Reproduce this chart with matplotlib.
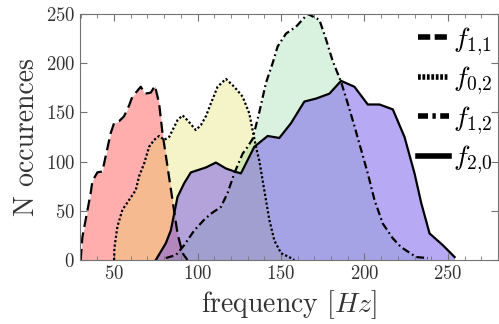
import numpy as np
import matplotlib
matplotlib.use("Agg")
import matplotlib.pyplot as plt
from matplotlib.lines import Line2D
from matplotlib.ticker import MultipleLocator

plt.rcParams['font.family'] = 'serif'
plt.rcParams['font.serif'] = ['cmr10', 'DejaVu Serif']
plt.rcParams['mathtext.fontset'] = 'cm'
plt.rcParams['axes.formatter.use_mathtext'] = True

# f_{1,1}
f11_x = [30, 31, 36, 37, 40, 43, 48, 50, 53, 56, 59, 61, 66, 68.5, 72, 74.5, 77, 79, 82, 85, 88, 91, 94]
f11_y = [0, 23, 68, 80, 89, 90, 129, 139, 141, 146, 157, 166, 176, 169, 170, 177, 159, 129, 95, 61, 27, 7, 0]
# f_{0,2}
f02_x = [50, 50.2, 52, 55, 59, 63, 65, 68, 71, 74, 77, 80, 83, 88, 91, 94, 99, 102, 105, 108, 112, 117, 122,
         127, 131, 133, 135, 137, 139, 141, 143, 146, 150, 156, 158]
f02_y = [0, 12, 34, 51, 61, 71, 85, 98, 115, 122, 126, 122, 125, 142, 147, 142, 132, 137, 146, 159, 176, 184, 176,
         166, 149, 132, 115, 101, 81, 61, 41, 20, 7, 2, 0]
# f_{1,2}
f12_x = [81, 87, 92, 98, 104, 108, 114, 118, 122, 127, 130, 133, 137, 141, 145, 148, 153, 159, 166, 173, 177,
         181, 186, 190, 194, 198, 202, 206, 211, 217, 222, 231, 238]
f12_y = [2, 5, 15, 30, 41, 47, 54, 68, 88, 108, 115, 123, 150, 180, 200, 217, 230, 237, 250, 244, 224,
         202, 181, 159, 136, 112, 88, 61, 37, 22, 13, 3, 2]
# f_{2,0}
f20_x = [75, 81, 84, 88, 92, 96, 105, 111, 117, 122, 126, 134, 142, 149, 156, 164, 171, 179, 186, 194, 202,
         209, 217, 224, 230, 234, 239, 247, 254]
f20_y = [0, 17, 30, 64, 78, 89, 94, 99, 93, 90, 88, 115, 126, 124, 139, 161, 164, 169, 182, 176, 158,
         158, 153, 125, 88, 58, 27, 15, 3]

series = [
    (f11_x, f11_y, (1.0, 0.0, 0.0), 0.32, (0, (5, 2.5))),
    (f02_x, f02_y, (0.88, 0.86, 0.30), 0.3, (0, (1, 1))),
    (f12_x, f12_y, (0.27, 0.75, 0.40), 0.2, (0, (3.5, 1.5, 0.8, 1.5))),
    (f20_x, f20_y, (0.45, 0.33, 0.92), 0.5, '-'),
]

fig = plt.figure(figsize=(4.99, 3.24), dpi=100)
ax = fig.add_axes([0.160, 0.1975, 0.838, 0.7595])

for x, y, c, a, ls in series:
    ax.fill_between(x, 0, y, color=c, alpha=a, lw=0)
    ax.plot(x, y, color='k', lw=1.6, linestyle=ls)

ax.set_xlim(29.5, 280)
ax.set_ylim(0, 250)
ax.xaxis.set_major_locator(MultipleLocator(50))
ax.xaxis.set_minor_locator(MultipleLocator(10))
ax.yaxis.set_major_locator(MultipleLocator(50))
ax.tick_params(which='both', direction='in', top=True, right=True, colors='0.45',
               labelcolor='0.2', labelsize=13.5)
ax.tick_params(which='major', length=5)
ax.tick_params(which='minor', length=3)
for s in ax.spines.values():
    s.set_color('0.45')

ax.set_xlabel(r'frequency $[Hz]$', fontsize=20, color='0.2')
ax.set_ylabel('N occurences', fontsize=20, color='0.2')

handles = [Line2D([], [], color='k', lw=4, linestyle=(0, (2.2, 0.8))),
           Line2D([], [], color='k', lw=4, linestyle=(0, (0.5, 0.3))),
           Line2D([], [], color='k', lw=4, linestyle=(0, (1.8, 0.8, 0.6, 0.8))),
           Line2D([], [], color='k', lw=4, linestyle='-')]
labels = [r'$f_{1{,}1}$', r'$f_{0{,}2}$', r'$f_{1{,}2}$', r'$f_{2{,}0}$']
ax.legend(handles, labels, loc='upper right', frameon=False, fontsize=20,
          handlelength=1.1, handletextpad=0.15, labelspacing=0.25,
          borderaxespad=0.1, bbox_to_anchor=(1.02, 1.01))

fig.savefig('out.png', dpi=100)
